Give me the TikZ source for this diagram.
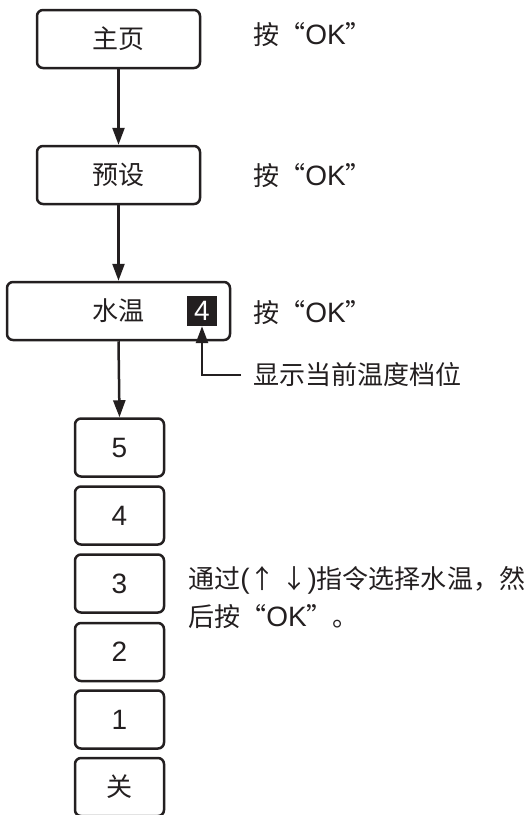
\documentclass[tikz,border=0pt]{standalone}
\usepackage{fontspec}
\setmainfont{Liberation Sans}
\newfontfamily\cjk[Scale=0.93]{Noto Sans CJK SC}
\usetikzlibrary{arrows.meta}
\definecolor{ink}{HTML}{231F20}
\tikzset{
  box/.style={draw=ink, line width=2.5pt, rounded corners=6pt, minimum height=58pt, inner sep=0pt, font=\fontsize{28}{34}\selectfont, text=ink},
  bigbox/.style={box, minimum width=163pt},
  smallbox/.style={box, minimum width=89pt},
  lbl/.style={anchor=west, inner sep=0pt, font=\fontsize{28}{34}\selectfont, text=ink},
  conn/.style={draw=ink, line width=2.5pt, -{Triangle[width=12pt,length=17pt]}},
}
\begin{document}
\begin{tikzpicture}[x=1pt,y=-1pt]
\useasboundingbox (0,0) rectangle (528,815);
\node[bigbox] (home) at (118.5,39) {\cjk 主页};
\node[bigbox] (preset) at (118.5,175) {\cjk 预设};
\node[box, minimum width=223pt] (water) at (118.5,311) {\cjk 水温};
\node[fill=ink, text=white, minimum width=30pt, minimum height=30pt, inner sep=0pt, font=\fontsize{28}{34}\selectfont] (cur) at (202,311) {4};
\node[smallbox] (s5) at (119.5,447.5) {5};
\node[smallbox] (s4) at (119.5,515.5) {4};
\node[smallbox] (s3) at (119.5,583.5) {3};
\node[smallbox] (s2) at (119.5,652) {2};
\node[smallbox] (s1) at (119.5,719.5) {1};
\node[smallbox] (off) at (119.5,787) {\cjk 关};
\draw[conn] (home.south) -- (preset.north);
\draw[conn] (preset.south) -- (water.north);
\draw[conn] (water.south) -- (s5.north);
\node[lbl] (ok1) at (253,35) {{\cjk 按“}OK{\cjk ”}};
\node[lbl] (ok2) at (253,176) {{\cjk 按“}OK{\cjk ”}};
\node[lbl] (ok3) at (253,313) {{\cjk 按“}OK{\cjk ”}};
\node[lbl] (curlbl) at (253,375) {\cjk 显示当前温度档位};
\coordinate (bend) at (cur.south |- curlbl.west);
\draw[conn] (curlbl.west) ++(-12pt,0) -- (bend) -- (cur.south);
\node[lbl] (sel1) at (188,580) {{\cjk 通过}({\cjk ↑ ↓}){\cjk 指令选择水温，然}};
\node[lbl] (sel2) at (188,617) {{\cjk 后按“}OK{\cjk ”。}};
\end{tikzpicture}
\end{document}
